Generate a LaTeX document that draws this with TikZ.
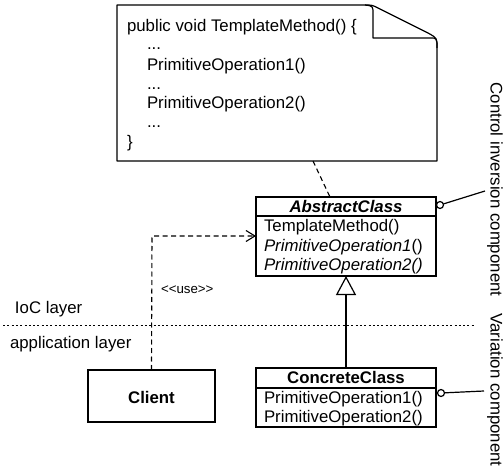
\documentclass[tikz,border=0pt]{standalone}
\usepackage{fontspec}
\setmainfont{Liberation Sans}
\usetikzlibrary{arrows.meta}
\begin{document}
\begin{tikzpicture}[x=1pt,y=-1pt,
  every node/.style={inner sep=0pt,outer sep=0pt,font=\fontsize{16.8}{20}\selectfont},
  ln/.style={line width=1.2pt},
  txt/.style={anchor=base west},
  ctxt/.style={anchor=base},
  dsh/.style={line width=1.1pt,dash pattern=on 5pt off 3.5pt},
  dotl/.style={line width=1pt,dash pattern=on 2pt off 2.3pt},
  small/.style={font=\fontsize{13.3}{15}\selectfont}]
\useasboundingbox (0,0) rectangle (504,468);
% note
\draw[ln,line join=round] (117,5) -- (365,5) .. controls (372,5) .. (378,8) -- (428,33) .. controls (437,38) .. (437,48) -- (437,161) -- (117,161) -- cycle;
\draw[ln,line join=round] (365,5) .. controls (373,6) .. (373,14) -- (373,38) -- (430,38) .. controls (437,38) .. (437,48);
\coordinate (noteb) at (313,161);
\node[txt] (n1) at (127,32) {public void TemplateMethod() \{};
\node[txt] (n2) at (147,50) {...};
\node[txt] (n3) at (147,71) {PrimitiveOperation1()};
\node[txt] (n4) at (147,90) {...};
\node[txt] (n5) at (147,109) {PrimitiveOperation2()};
\node[txt] (n6) at (147,128) {...};
\node[txt] (n7) at (127,148) {\}};
% abstract class
\node[ln,draw,anchor=north west,minimum width=180pt,minimum height=79pt] (abs) at (256,197) {};
\draw[ln] (256,216) -- (436,216);
\node[ctxt] (absn) at (346,213) {\textbf{\textit{AbstractClass}}};
\node[txt] (a1) at (264,232) {TemplateMethod()};
\node[txt] (a2) at (264,252) {\textit{PrimitiveOperation1}()};
\node[txt] (a3) at (264,271) {\textit{PrimitiveOperation2()}};
\coordinate (abst) at (330,197);
\draw[dsh] (noteb) -- (abst);
% concrete class
\node[ln,draw,anchor=north west,minimum width=180pt,minimum height=59pt] (con) at (256,368) {};
\draw[ln] (256,388) -- (436,388);
\node[ctxt] (conn) at (346,383) {\textbf{ConcreteClass}};
\node[txt] (c1) at (264,403) {PrimitiveOperation1()};
\node[txt] (c2) at (264,422) {PrimitiveOperation2()};
\draw[ln,-{Triangle[open,length=19pt,width=20pt,line width=1.2pt]}] (con.north) -- (abs.south);
% client
\node[ln,draw,anchor=north west,minimum width=127pt,minimum height=52pt] (cli) at (88,370) {};
\node[ctxt] (clin) at (151.5,403) {\textbf{Client}};
\coordinate (bend) at (152,236);
\coordinate (absl) at (256,236);
\draw[dsh,-{Straight Barb[length=9pt,width=11pt,line width=1.1pt]}] (cli.north) -- (bend) -- (absl);
\node[txt,small] (use) at (161,294) {<{}<use>{}>};
% layers
\coordinate (dl) at (3,325);
\coordinate (dr) at (475,325);
\draw[dotl] (dl) -- (dr);
\node[txt] (ioc) at (15,313) {IoC layer};
\node[txt] (app) at (10,348) {application layer};
% lollipops
\node[ln,draw,circle,minimum size=7pt,fill=white] (l1) at (440,205) {};
\coordinate (l1e) at (485,191);
\draw[ln] (l1) -- (l1e);
\node[ln,draw,circle,minimum size=7pt,fill=white] (l2) at (441,393) {};
\coordinate (l2e) at (484,391);
\draw[ln] (l2) -- (l2e);
% side labels
\node[rotate=-90] (cic) at (495,189.5) {Control inversion component};
\node[rotate=-90] (vc) at (495,390) {Variation component};
\end{tikzpicture}
\end{document}
